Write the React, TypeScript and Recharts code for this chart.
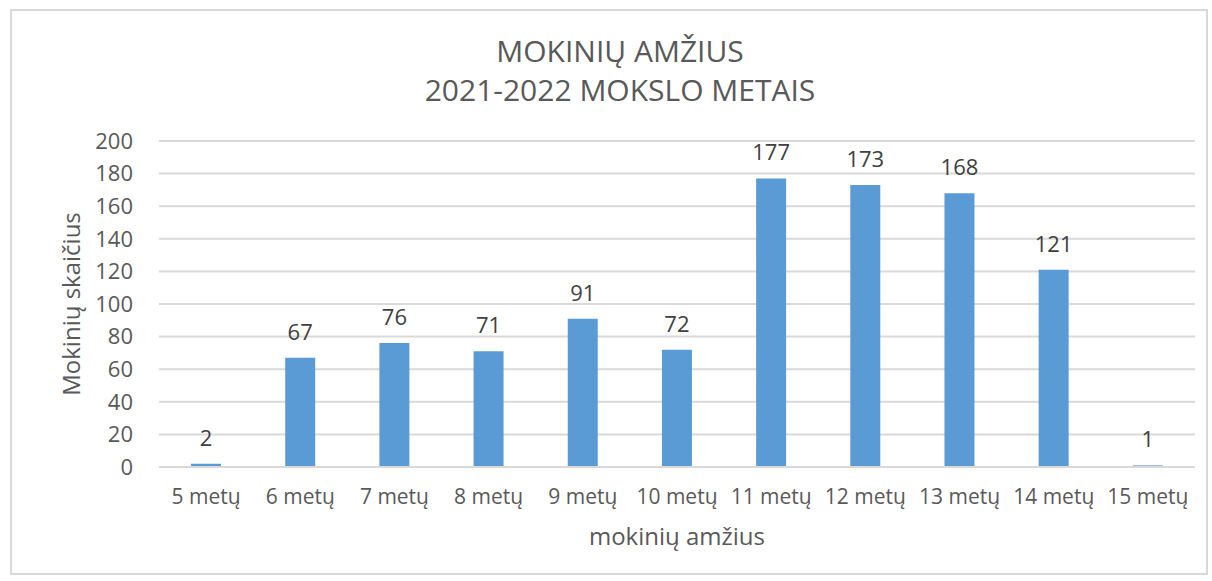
import React from "react";
import { Bar, BarChart, CartesianGrid, LabelList, XAxis, YAxis, Label } from "recharts";

const ageLabels = [
  "5 metų",
  "6 metų",
  "7 metų",
  "8 metų",
  "9 metų",
  "10 metų",
  "11 metų",
  "12 metų",
  "13 metų",
  "14 metų",
  "15 metų",
];
const studentCounts = [2, 67, 76, 71, 91, 72, 177, 173, 168, 121, 1];
const yTicks = [0, 20, 40, 60, 80, 100, 120, 140, 160, 180, 200];

const data = ageLabels.map((name, i) => ({ name, value: studentCounts[i] }));

const FONT = "'Open Sans', sans-serif";
const TEXT = "#595959";

export default function App() {
  return (
    <div
      style={{
        position: "absolute",
        left: 0,
        top: 0,
        width: 1212,
        height: 581,
        background: "#fff",
        fontFamily: FONT,
      }}
    >
      <div
        style={{
          position: "absolute",
          left: 10,
          top: 9,
          width: 1198,
          height: 566,
          border: "2px solid #d9d9d9",
          boxSizing: "border-box",
        }}
      />
      <div
        style={{
          position: "absolute",
          left: 270,
          top: 31,
          width: 700,
          textAlign: "center",
          color: TEXT,
          fontSize: 30,
          lineHeight: "39px",
        }}
      >
        <div>MOKINIŲ AMŽIUS</div>
        <div>2021-2022 MOKSLO METAIS</div>
      </div>
      <div style={{ position: "absolute", left: 0, top: 0 }}>
        <BarChart
          width={1212}
          height={581}
          data={data}
          margin={{ top: 141, right: 17, bottom: 30, left: 99 }}
          barCategoryGap="34%"
        >
          <CartesianGrid vertical={false} stroke="#d9d9d9" strokeWidth={2} />
          <XAxis
            dataKey="name"
            interval={0}
            tickLine={false}
            axisLine={{ stroke: "#d9d9d9", strokeWidth: 2 }}
            tick={{ fill: TEXT, fontSize: 21, fontFamily: FONT }}
            tickMargin={16}
            height={84}
          >
            <Label
              value="mokinių amžius"
              position="insideBottom"
              offset={6}
              style={{ fill: TEXT, fontSize: 24, fontFamily: FONT }}
            />
          </XAxis>
          <YAxis
            domain={[0, 200]}
            ticks={yTicks}
            interval={0}
            tickLine={false}
            axisLine={false}
            tick={{ fill: TEXT, fontSize: 22, fontFamily: FONT }}
            tickMargin={20}
            width={60}
          >
            <Label
              value="Mokinių skaičius"
              angle={-90}
              position="insideLeft"
              offset={-28}
              style={{ fill: TEXT, fontSize: 24, fontFamily: FONT, textAnchor: "middle" }}
            />
          </YAxis>
          <Bar dataKey="value" fill="#5b9bd5" isAnimationActive={false}>
            <LabelList
              dataKey="value"
              position="top"
              offset={18}
              style={{ fill: "#404040", fontSize: 22, fontFamily: FONT }}
            />
          </Bar>
        </BarChart>
      </div>
    </div>
  );
}
